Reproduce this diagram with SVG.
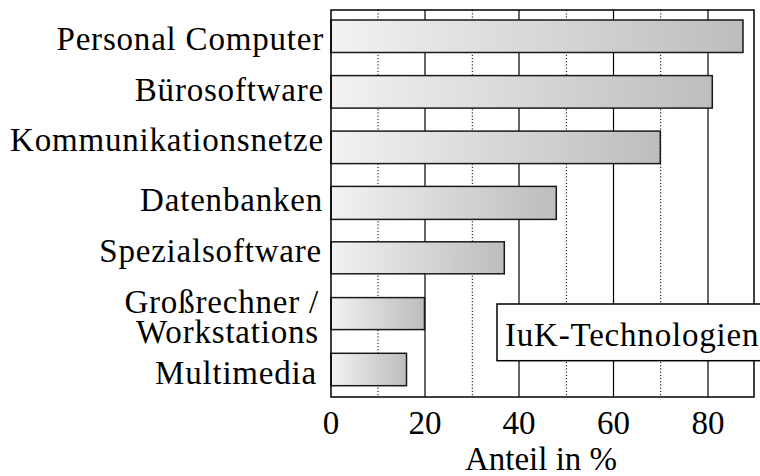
<svg xmlns="http://www.w3.org/2000/svg" width="760" height="476" viewBox="0 0 760 476">
  <defs>
    <linearGradient id="barGrad" x1="0" y1="0" x2="1" y2="0">
      <stop offset="0" stop-color="#f2f2f2"/>
      <stop offset="1" stop-color="#bdbdbd"/>
    </linearGradient>
    <style>
      .lbl { font-family: "Liberation Serif", "Times New Roman", serif; font-size: 33px; fill: #000; letter-spacing: 0.8px; }
      .tick { font-family: "Liberation Serif", "Times New Roman", serif; font-size: 33px; fill: #000; text-anchor: middle; }
      .grid { stroke: #000; stroke-width: 1.2; fill: none; }
      .dot { stroke: #000; stroke-width: 1; stroke-dasharray: 1.2 2; fill: none; }
      .bar { fill: url(#barGrad); stroke: #1a1a1a; stroke-width: 1.5; }
      .frame { fill: none; stroke: #000; stroke-width: 1.5; }
    </style>
  </defs>
  <rect width="760" height="476" fill="#fff"/>

  <g id="gridlines">
    <line class="dot" x1="378" y1="10" x2="378" y2="397"/>
    <line class="dot" x1="472.3" y1="10" x2="472.3" y2="397"/>
    <line class="dot" x1="566.4" y1="10" x2="566.4" y2="397"/>
    <line class="dot" x1="660.7" y1="10" x2="660.7" y2="397"/>
    <line class="grid" x1="425" y1="10" x2="425" y2="397"/>
    <line class="grid" x1="519" y1="10" x2="519" y2="397"/>
    <line class="grid" x1="613.5" y1="10" x2="613.5" y2="397"/>
    <line class="grid" x1="708" y1="10" x2="708" y2="397"/>
  </g>

  <g id="bars">
    <g id="bar-personal-computer"><rect class="bar" x="331" y="20" width="412" height="32.5"/></g>
    <g id="bar-buerosoftware"><rect class="bar" x="331" y="75.6" width="381.3" height="32.5"/></g>
    <g id="bar-kommunikationsnetze"><rect class="bar" x="331" y="131.1" width="329.3" height="32.5"/></g>
    <g id="bar-datenbanken"><rect class="bar" x="331" y="186.4" width="225.3" height="33"/></g>
    <g id="bar-spezialsoftware"><rect class="bar" x="331" y="241.8" width="173.3" height="32"/></g>
    <g id="bar-grossrechner"><rect class="bar" x="331" y="297.6" width="93.5" height="32"/></g>
    <g id="bar-multimedia"><rect class="bar" x="331" y="353.3" width="75.5" height="32.4"/></g>
  </g>

  <rect id="frame" class="frame" x="331" y="10" width="423" height="387"/>

  <g id="legend">
    <rect x="497" y="304" width="280" height="56.7" fill="#fff" stroke="#000" stroke-width="1.5"/>
    <text class="lbl" x="505" y="346">IuK-Technologien</text>
  </g>

  <g id="labels" text-anchor="end">
    <text class="lbl" x="324" y="50">Personal Computer</text>
    <text class="lbl" x="324" y="101">Bürosoftware</text>
    <text class="lbl" x="324" y="151">Kommunikationsnetze</text>
    <text class="lbl" x="323" y="211">Datenbanken</text>
    <text class="lbl" x="322" y="262">Spezialsoftware</text>
    <text class="lbl" x="319" y="313">Großrechner /</text>
    <text class="lbl" x="319" y="343">Workstations</text>
    <text class="lbl" x="317" y="384">Multimedia</text>
  </g>

  <g id="axis">
    <text class="tick" x="331" y="434">0</text>
    <text class="tick" x="425" y="434">20</text>
    <text class="tick" x="519" y="434">40</text>
    <text class="tick" x="613.5" y="434">60</text>
    <text class="tick" x="708" y="434">80</text>
    <text class="tick" x="541" y="470">Anteil in %</text>
  </g>
</svg>
